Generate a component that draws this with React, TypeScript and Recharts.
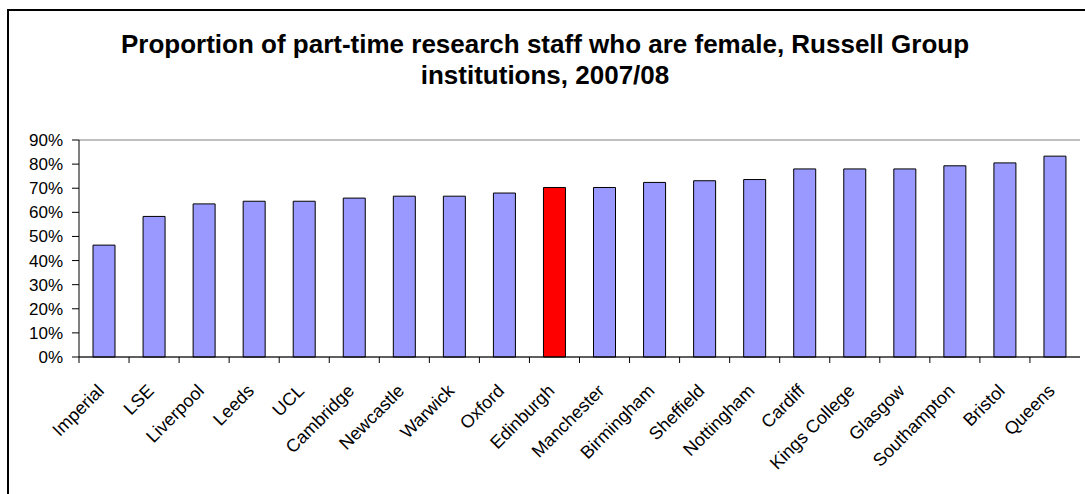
import { BarChart, Bar, XAxis, YAxis, CartesianGrid, Cell } from 'recharts';

const institutions = [
  'Imperial', 'LSE', 'Liverpool', 'Leeds', 'UCL', 'Cambridge', 'Newcastle', 'Warwick', 'Oxford', 'Edinburgh',
  'Manchester', 'Birmingham', 'Sheffield', 'Nottingham', 'Cardiff', 'Kings College', 'Glasgow', 'Southampton', 'Bristol', 'Queens',
];
const femaleShare = [
  46.4, 58.3, 63.5, 64.6, 64.6, 65.9, 66.7, 66.7, 68.0, 70.3,
  70.3, 72.4, 73.1, 73.6, 78.0, 78.0, 78.0, 79.3, 80.5, 83.3,
];
const highlight = 'Edinburgh';
const yTicks = [0, 10, 20, 30, 40, 50, 60, 70, 80, 90];

const data = institutions.map((name, i) => ({ name, value: femaleShare[i] }));

const FONT = '"Liberation Sans", Arial, sans-serif';
const BAND = (1085 - 79 - 5) / institutions.length;

// category label rotated -45deg, tick mark sits between categories (Excel style)
function CatTick({ x, y, payload }: { x?: number; y?: number; payload?: { value: string } }) {
  const left = (x ?? 0) - BAND / 2;
  const tx = x! + 1;
  const ty = y! + 35;
  return (
    <g>
      <line x1={left} y1={y!} x2={left} y2={y! + 6} stroke="#000" />
      <text
        x={tx}
        y={ty}
        textAnchor="end"
        transform={`rotate(-45 ${tx} ${ty})`}
        fontSize={18}
        fontFamily={FONT}
        fill="#000"
      >
        {payload?.value}
      </text>
    </g>
  );
}

export default function App() {
  return (
    <div style={{ position: 'absolute', left: 0, top: 0, width: 1085, height: 494, background: '#fff', overflow: 'hidden', fontFamily: FONT }}>
      <div style={{ position: 'absolute', left: 7, top: 9, width: 1100, height: 520, border: '2px solid #000', boxSizing: 'border-box' }} />
      <div style={{ position: 'absolute', left: 0, width: 1090, top: 29, textAlign: 'center', fontWeight: 'bold', fontSize: 26, lineHeight: '31px', color: '#000' }}>
        Proportion of part-time research staff who are female, Russell Group
        <br />
        institutions, 2007/08
      </div>
      <BarChart
        width={1085}
        height={494}
        data={data}
        margin={{ top: 140, right: 5, bottom: 17, left: 0 }}
        barCategoryGap="28%"
        style={{ position: 'absolute', left: 0, top: 0 }}
      >
        <CartesianGrid stroke="#808080" vertical={false} />
        <XAxis
          dataKey="name"
          interval={0}
          height={120}
          tickLine={false}
          tickSize={0}
          tickMargin={0}
          axisLine={{ stroke: '#000' }}
          tick={<CatTick />}
        />
        <YAxis
          yAxisId="l"
          width={79}
          domain={[0, 90]}
          ticks={yTicks}
          interval={0}
          tickFormatter={(v: number) => `${v}%`}
          tick={{ fill: '#000', fontSize: 17, fontFamily: FONT }}
          tickSize={7}
          tickMargin={9}
          tickLine={{ stroke: '#000' }}
          axisLine={{ stroke: '#000' }}
        />
        <YAxis yAxisId="r" orientation="right" width={0} domain={[0, 90]} ticks={yTicks} interval={0} tick={false} tickLine={false} axisLine={{ stroke: '#808080' }} />
        <Bar yAxisId="l" dataKey="value" stroke="#000" strokeWidth={1} isAnimationActive={false}>
          {data.map((d) => (
            <Cell key={d.name} fill={d.name === highlight ? '#FF0000' : '#9999FF'} />
          ))}
        </Bar>
      </BarChart>
    </div>
  );
}
